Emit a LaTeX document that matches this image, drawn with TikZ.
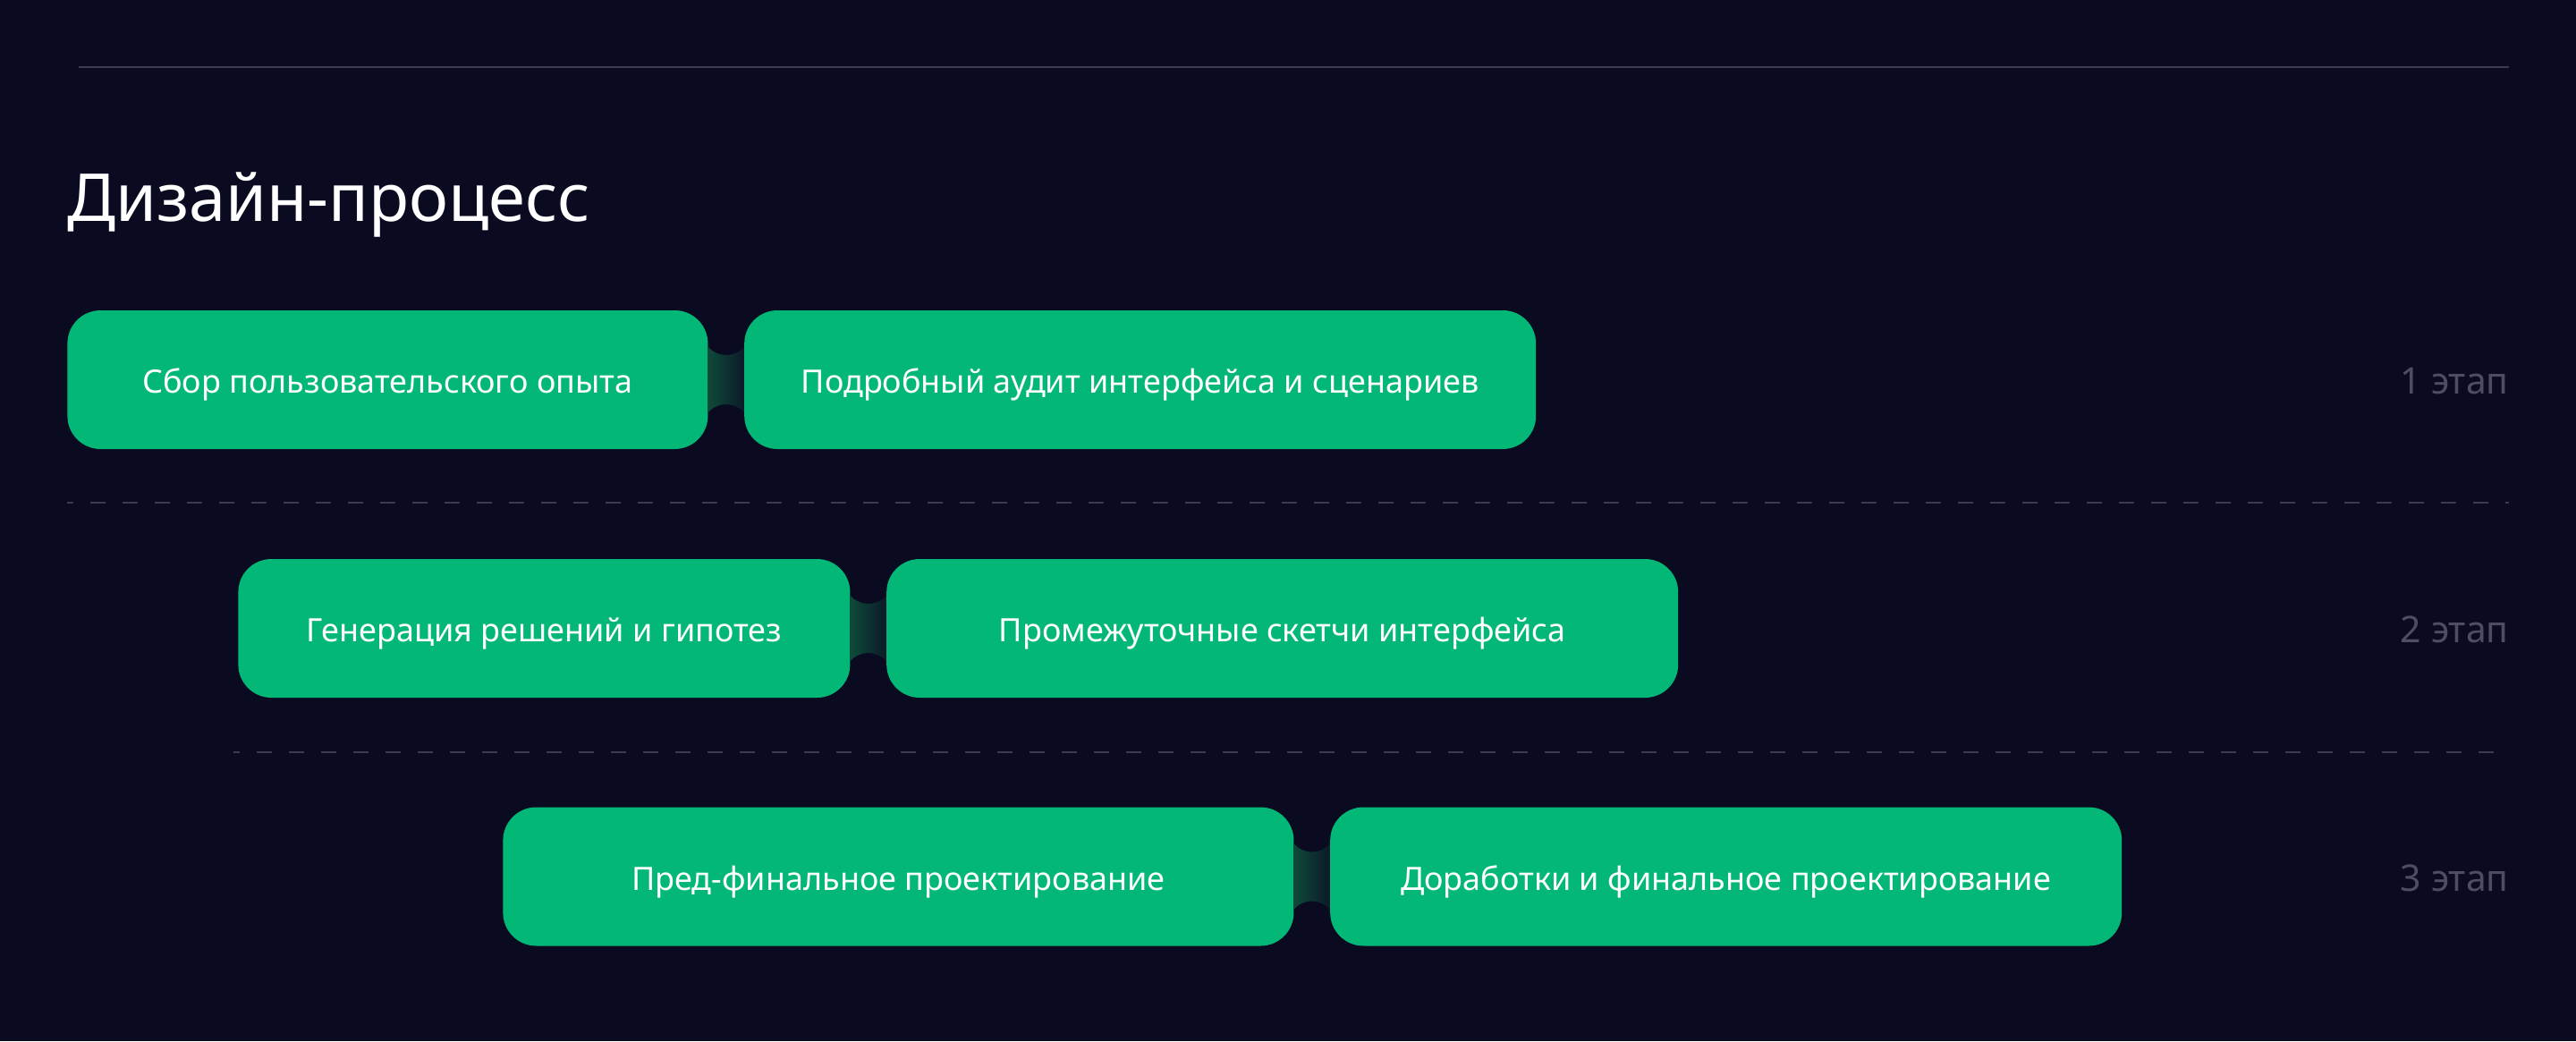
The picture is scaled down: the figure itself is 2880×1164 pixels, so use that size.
\documentclass[tikz,border=0pt]{standalone}
\usepackage{fontspec}
\setmainfont{Noto Sans}
\usepackage{xcolor}
\usetikzlibrary{positioning,calc}

\definecolor{bgnavy}{HTML}{0A0A21}
\definecolor{boxgreen}{HTML}{03B876}
\definecolor{rulegray}{HTML}{3B3A52}
\definecolor{labelgray}{HTML}{4E4D62}
\definecolor{linkL}{HTML}{0E4A39}
\definecolor{linkR}{HTML}{0C1A29}

\begin{document}
\begin{tikzpicture}[x=0.5pt,y=-0.5pt,
  stagebox/.style={fill=boxgreen,rounded corners=18.5pt,minimum height=77.5pt,
    inner sep=0pt,text=white,text height=15pt,text depth=0pt,
    font=\fontsize{18}{22}\selectfont},
  stagelabel/.style={anchor=east,inner sep=0pt,text=labelgray,
    font=\fontsize{20.5}{24}\selectfont},
  stageline/.style={rulegray,line width=1pt,dash pattern=on 8.5pt off 9.5pt,dash phase=5pt},
  link/.style={left color=linkL,right color=linkR}]
% Background and header
\fill[bgnavy] (0,0) rectangle (2880,1164);
\useasboundingbox (0,0) rectangle (2880,1164);
\draw[rulegray,line width=1pt] (88,75) -- (2805,75);
\node[anchor=base west,inner sep=0pt,text=white,font=\fontsize{37}{44}\selectfont] (title) at (75,247) {Дизайн-процесс};

% Stage 1
\node[stagebox,minimum width=358pt,anchor=west] (research) at (75,424.5) {Сбор пользовательского опыта};
\node[stagebox,minimum width=442.5pt,right=20pt of research] (audit) {Подробный аудит интерфейса и сценариев};
\shade[link] ($(research.east)+(0,18.25pt)$) arc[start angle=222,end angle=318,radius=13.5pt]
  -- ($(audit.west)+(0,-18.25pt)$) arc[start angle=42,end angle=138,radius=13.5pt] -- cycle;
\node[stagelabel] (stage1) at (2805,426) {1 этап};
\draw[stageline] (75,562) -- (2805,562);

% Stage 2
\node[stagebox,minimum width=342pt,anchor=west] (ideas) at (266,702.5) {Генерация решений и гипотез};
\node[stagebox,minimum width=442.5pt,right=20pt of ideas] (sketch) {Промежуточные скетчи интерфейса};
\shade[link] ($(ideas.east)+(0,18.25pt)$) arc[start angle=222,end angle=318,radius=13.5pt]
  -- ($(sketch.west)+(0,-18.25pt)$) arc[start angle=42,end angle=138,radius=13.5pt] -- cycle;
\node[stagelabel] (stage2) at (2805,704) {2 этап};
\draw[stageline] (261,840.5) -- (2805,840.5);

% Stage 3
\node[stagebox,minimum width=442pt,anchor=west] (prefinal) at (562,980) {Пред-финальное проектирование};
\node[stagebox,minimum width=442.5pt,right=20pt of prefinal] (final) {Доработки и финальное проектирование};
\shade[link] ($(prefinal.east)+(0,18.25pt)$) arc[start angle=222,end angle=318,radius=13.5pt]
  -- ($(final.west)+(0,-18.25pt)$) arc[start angle=42,end angle=138,radius=13.5pt] -- cycle;
\node[stagelabel] (stage3) at (2805,982) {3 этап};
\end{tikzpicture}
\end{document}
